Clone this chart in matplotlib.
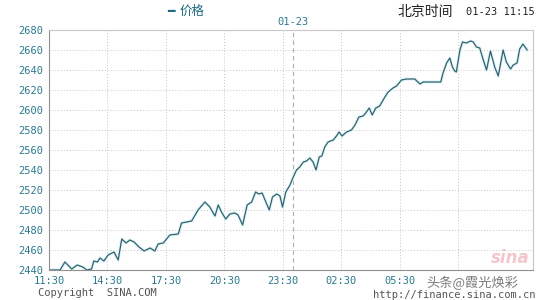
import numpy as np
import matplotlib
matplotlib.use("Agg")
import matplotlib.pyplot as plt

# minutes since 11:30 (day 1) and price
minutes=[0,6,34,49,70,87,104,116,131,138,149,157,169,182,200,213,224,237,249,262,277,293,311,326,336,352,372,
 398,408,424,439,459,480,495,511,521,531,544,557,572,582,596,610,624,636,646,656,678,688,701,711,719,729,742,
 752,762,772,783,793,803,813,822,832,840,849,859,875,885,893,902,916,931,942,954,967,975,986,995,1006,1018,
 1034,1044,1059,1070,1085,1101,1126,1142,1152,1172,1206,1213,1224,1234,1242,1249,1254,1265,1273,1285,1298,
 1306,1316,1326,1337,1347,1359,1372,1383,1398,1408,1421,1429,1441,1449,1459,1472]
price=[2440,2440,2440,2448,2441,2445,2443,2440,2441,2449,2448,2452,2449,2455,2458,2450,2471,2467,2470,2468,2463,
 2459,2462,2459,2466,2467,2475,2476,2487,2488,2489,2500,2508,2503,2494,2505,2498,2491,2496,2497,2495,2485,2505,
 2508,2518,2516,2517,2500,2513,2516,2514,2503,2518,2525,2533,2540,2543,2548,2549,2552,2548,2540,2553,2554,2563,
 2568,2570,2574,2578,2574,2578,2580,2585,2593,2594,2597,2602,2595,2602,2604,2613,2618,2622,2624,2630,2631,2631,
 2626,2628,2628,2628,2637,2647,2652,2643,2639,2638,2660,2668,2667,2669,2668,2663,2662,2650,2640,2659,2643,2634,
 2660,2648,2641,2645,2647,2661,2666,2660]
xticks=[0,180,360,540,720,900,1080,1260]
xlabels=["11:30","14:30","17:30","20:30","23:30","02:30","05:30",""]
yticks=list(range(2440,2681,20))
midnight=750

teal="#2b7a8c"; mono="DejaVu Sans Mono"
plt.rcParams['font.family']=['Noto Sans CJK SC','DejaVu Sans']
fig=plt.figure(figsize=(5.4,3),dpi=100)
ax=fig.add_axes([49/540,30/300,484/540,240/300])
ax.set_xlim(0,1490); ax.set_ylim(2440,2680)
for t in xticks[1:]: ax.axvline(t,color="#c4c4c4",lw=0.7,ls=(0,(1,2)),zorder=0)
for v in yticks[1:-1]: ax.axhline(v,color="#c4c4c4",lw=0.7,ls=(0,(1,2)),zorder=0)
ax.axvline(midnight,color="#b0b0b0",lw=0.8,ls=(0,(4,3)),zorder=0)
ax.plot(minutes,price,color="#dff6fb",lw=2.4,solid_joinstyle="round",zorder=1)
ax.plot(minutes,price,color="#34606a",lw=0.9,zorder=2)
ax.set_xticks(xticks); ax.set_xticklabels(xlabels)
ax.set_yticks(yticks); ax.set_yticklabels([str(v) for v in yticks])
ax.tick_params(length=0,pad=4,colors=teal,labelsize=7.5)
for lab in ax.get_xticklabels()+ax.get_yticklabels(): lab.set_family(mono)
for s in ["top","right"]: ax.spines[s].set_color("#c8c8c8")
for s in ["left","bottom"]: ax.spines[s].set_color("#909090")
for s in ax.spines.values(): s.set_linewidth(0.8)
ax.text(midnight,2683,"01-23",ha="center",va="bottom",color=teal,fontsize=7.5,family=mono)
fig.text(167/540,1-11/300,"━",color="#1f6a80",fontsize=9,va="center",ha="left",family="DejaVu Sans")
fig.text(180/540,1-11/300,"价格",color="#1f6a80",fontsize=9,va="center",ha="left")
fig.text(398/540,1-12/300,"北京时间",color="#222222",fontsize=10,va="center",ha="left")
fig.text(535/540,1-12/300,"01-23 11:15",color="#222222",fontsize=7.5,va="center",ha="right",family=mono)
fig.text(38/540,1-293/300,"Copyright  SINA.COM",color="#555555",fontsize=7.5,va="center",ha="left",family=mono)
fig.text(535/540,1-295/300,"http://finance.sina.com.cn",color="#555555",fontsize=7.5,va="center",ha="right",family=mono)
fig.text(530/540,1-258/300,"sina",color="#f0b8c0",fontsize=12,style="italic",weight="bold",va="center",ha="right",family="DejaVu Sans",alpha=0.8)
fig.text(426/540,1-283/300,"头条@霞光焕彩",color="#444444",fontsize=9.5,va="center",ha="left",alpha=0.7)
fig.savefig("out.png",dpi=100)
